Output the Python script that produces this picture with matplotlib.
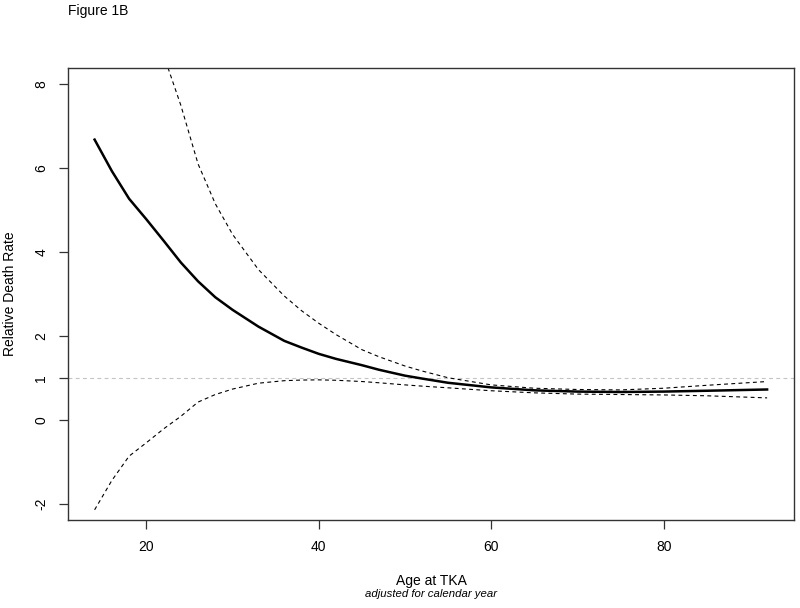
import matplotlib
matplotlib.use('Agg')
import matplotlib.pyplot as plt

# age at TKA and estimated relative death rate with its confidence band
age = [14, 16, 18, 20, 22, 24, 26, 28, 30, 33, 36, 38, 40, 42, 45, 47, 50, 52, 55, 60, 65, 70,
       75, 80, 85, 92]
rate = [6.68, 5.93, 5.27, 4.78, 4.27, 3.75, 3.30, 2.92, 2.62, 2.22, 1.88, 1.72, 1.57, 1.45,
        1.30, 1.19, 1.05, 0.98, 0.88, 0.77, 0.70, 0.67, 0.66, 0.67, 0.69, 0.72]
upper = [16.0, 13.5, 11.5, 10.0, 8.7, 7.5, 6.1, 5.15, 4.42, 3.58, 2.95, 2.6, 2.3, 2.03,
         1.67, 1.5, 1.28, 1.16, 1.0, 0.83, 0.75, 0.72, 0.71, 0.75, 0.82, 0.91]
lower = [-2.15, -1.45, -0.87, -0.55, -0.22, 0.08, 0.42, 0.60, 0.73, 0.87, 0.93, 0.945, 0.95,
         0.94, 0.91, 0.88, 0.83, 0.80, 0.76, 0.69, 0.64, 0.61, 0.60, 0.59, 0.57, 0.52]
x_ticks = [20, 40, 60, 80]
y_ticks = [-2, 0, 1, 2, 4, 6, 8]

plt.rcParams['font.family'] = ['Liberation Sans', 'DejaVu Sans']
plt.rcParams['axes.unicode_minus'] = False

fig = plt.figure(figsize=(8, 6.08), dpi=100)
ax = fig.add_axes([67.7 / 800, 1 - 520.3 / 608, (794 - 67.7) / 800, (520.3 - 67.5) / 608])

dash = (0, (3.5, 3))
ax.axhline(1, color='#c4c4c4', lw=0.8, linestyle=dash)
ax.plot(age, upper, color='black', lw=0.8, linestyle=dash)
ax.plot(age, lower, color='black', lw=0.8, linestyle=dash)
ax.plot(age, rate, color='black', lw=1.8)

ax.set_xlim(10.88, 95.12)
ax.set_ylim(-2.4, 8.4)
ax.set_xticks(x_ticks)
ax.set_yticks(y_ticks)
ax.tick_params(axis='both', length=6.5, width=0.9, color='#333333', labelsize=10)
ax.tick_params(axis='x', pad=7.5)
ax.tick_params(axis='y', pad=7.5, labelrotation=90)
for lab in ax.get_yticklabels():
	lab.set_va('center')
for s in ax.spines.values():
	s.set_color('#333333')
	s.set_linewidth(1.0)

fig.text(68 / 800, 1 - 15 / 608, 'Figure 1B', fontsize=10, ha='left', va='baseline')
fig.text(10 / 800, 1 - 294 / 608, 'Relative Death Rate', fontsize=10, rotation=90,
	ha='center', va='center')
fig.text(431 / 800, 1 - 585 / 608, 'Age at TKA', fontsize=10, ha='center', va='baseline')
fig.text(431 / 800, 1 - 597 / 608, 'adjusted for calendar year', fontsize=8.2, style='italic',
	ha='center', va='baseline')

fig.savefig('out.png', dpi=100)
